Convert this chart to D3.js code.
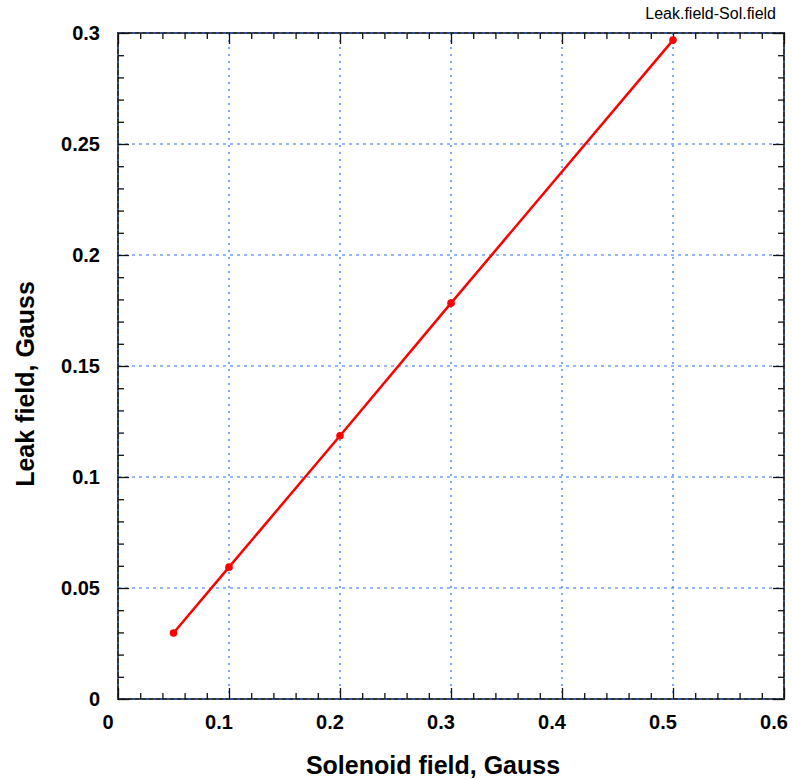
<!DOCTYPE html>
<html>
<head>
<meta charset="utf-8">
<script src="https://cdn.jsdelivr.net/npm/d3@7"></script>
<style>
  body { margin: 0; background: #fff; }
  svg { display: block; font-family: "Liberation Sans", Arial, sans-serif; }
</style>
</head>
<body>
<svg id="chart"></svg>
<script>
// data
const solenoidField = [0.05, 0.1, 0.2, 0.3, 0.5];
const leakField = [0.0297, 0.0594, 0.1186, 0.1783, 0.2968];
const xTicks = [0, 0.1, 0.2, 0.3, 0.4, 0.5, 0.6];
const yTicks = [0, 0.05, 0.1, 0.15, 0.2, 0.25, 0.3];

const width = 792, height = 780;
const margin = { top: 33, right: 8, bottom: 81, left: 118 };
const innerW = width - margin.left - margin.right;
const innerH = height - margin.top - margin.bottom;

const svg = d3.select("#chart").attr("width", width).attr("height", height);
const g = svg.append("g").attr("transform", `translate(${margin.left},${margin.top})`);

const x = d3.scaleLinear().domain([0, 0.6]).range([0, innerW]);
const y = d3.scaleLinear().domain([0, 0.3]).range([innerH, 0]);

const xMinor = d3.range(0, 61, 2).map(d => d / 100).filter(d => !xTicks.some(t => Math.abs(t - d) < 1e-9));
const yMinor = d3.range(0, 31, 1).map(d => d / 100).filter(d => !yTicks.some(t => Math.abs(t - d) < 1e-9));

// frame
g.append("rect")
    .attr("width", innerW)
    .attr("height", innerH)
    .attr("fill", "none")
    .attr("stroke", "#333")
    .attr("stroke-width", 2);

// grid
const gridColor = "#2a72f5";
g.append("g").selectAll("line")
    .data(xTicks)
    .enter().append("line")
    .attr("x1", d => x(d)).attr("x2", d => x(d))
    .attr("y1", 0).attr("y2", innerH)
    .attr("stroke", gridColor)
    .attr("stroke-width", 1.2)
    .attr("stroke-dasharray", "2,5");

g.append("g").selectAll("line")
    .data(yTicks)
    .enter().append("line")
    .attr("y1", d => y(d)).attr("y2", d => y(d))
    .attr("x1", 0).attr("x2", innerW)
    .attr("stroke", gridColor)
    .attr("stroke-width", 1.2)
    .attr("stroke-dasharray", "3,4");

// inward ticks on all four sides
function ticks(axis, values, size, transform) {
    const a = g.append("g")
        .attr("transform", transform)
        .call(axis.tickValues(values).tickSizeInner(size).tickSizeOuter(0).tickFormat(""));
    a.select(".domain").remove();
    a.selectAll("line").attr("stroke", "#111").attr("stroke-width", 1.3);
}
ticks(d3.axisBottom(x), xTicks, -11, `translate(0,${innerH})`);
ticks(d3.axisBottom(x), xMinor, -6, `translate(0,${innerH})`);
ticks(d3.axisTop(x), xTicks, -11, "translate(0,0)");
ticks(d3.axisTop(x), xMinor, -6, "translate(0,0)");
ticks(d3.axisLeft(y), yTicks, -11, "translate(0,0)");
ticks(d3.axisLeft(y), yMinor, -6, "translate(0,0)");
ticks(d3.axisRight(y), yTicks, -11, `translate(${innerW},0)`);
ticks(d3.axisRight(y), yMinor, -6, `translate(${innerW},0)`);

// tick labels
g.append("g").selectAll("text")
    .data(xTicks)
    .enter().append("text")
    .attr("x", d => x(d) - 10)
    .attr("y", innerH + 30)
    .attr("text-anchor", "middle")
    .attr("font-size", 20)
    .attr("font-weight", "bold")
    .text(d => d);

g.append("g").selectAll("text")
    .data(yTicks)
    .enter().append("text")
    .attr("x", -18)
    .attr("y", d => y(d))
    .attr("dy", "0.36em")
    .attr("text-anchor", "end")
    .attr("font-size", 20)
    .attr("font-weight", "bold")
    .text(d => d);

// series
const pts = solenoidField.map((d, i) => ({ x: d, y: leakField[i] }));
g.append("path")
    .datum(pts)
    .attr("fill", "none")
    .attr("stroke", "#ff0000")
    .attr("stroke-width", 2.5)
    .attr("d", d3.line().x(d => x(d.x)).y(d => y(d.y)));

g.selectAll(".pt")
    .data(pts)
    .enter().append("circle")
    .attr("class", "pt")
    .attr("cx", d => x(d.x))
    .attr("cy", d => y(d.y))
    .attr("r", 3.8)
    .attr("fill", "#ff0000");

// titles
svg.append("text")
    .attr("x", 433)
    .attr("y", 774)
    .attr("text-anchor", "middle")
    .attr("font-size", 25)
    .attr("font-weight", "bold")
    .text("Solenoid field, Gauss");

svg.append("text")
    .attr("transform", "translate(34,384) rotate(-90)")
    .attr("text-anchor", "middle")
    .attr("font-size", 25)
    .attr("font-weight", "bold")
    .text("Leak field, Gauss");

svg.append("text")
    .attr("x", 776)
    .attr("y", 19)
    .attr("text-anchor", "end")
    .attr("font-size", 16)
    .text("Leak.field-Sol.field");
</script>
</body>
</html>
